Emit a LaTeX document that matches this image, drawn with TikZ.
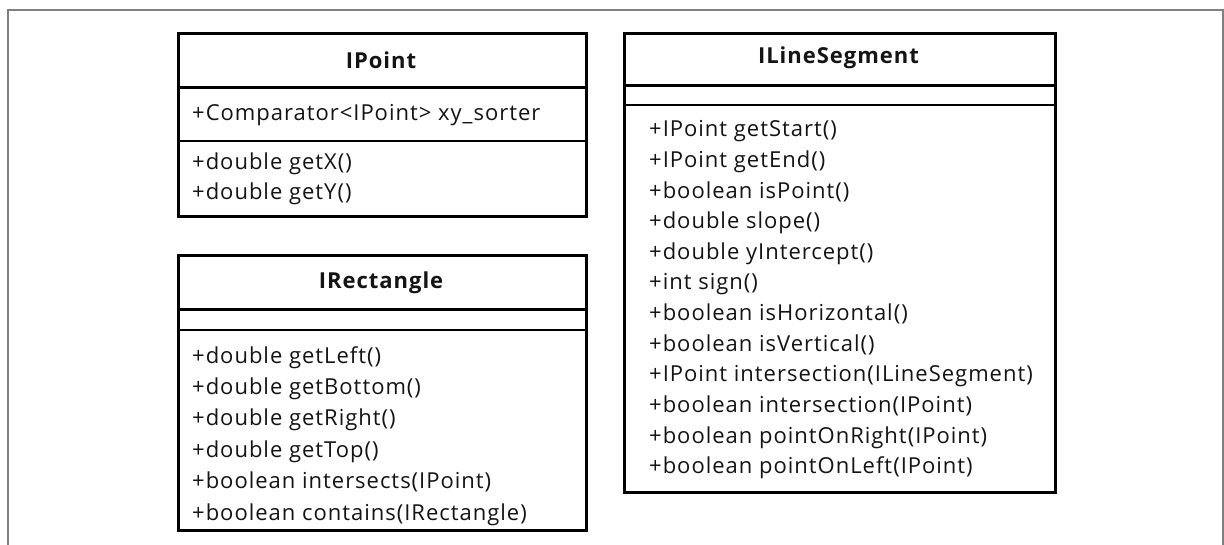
\documentclass[tikz,border=0pt]{standalone}
\usepackage{fontspec}
\setmainfont{Open Sans}[LetterSpace=4.5]
\begin{document}
\begin{tikzpicture}[x=1pt,y=-1pt,
  comp/.style={draw=black, line width=2.6pt, anchor=north west, inner sep=0pt, fill=white},
  thin/.style={draw=black, line width=2pt},
  title/.style={font=\fontsize{22}{26}\selectfont\bfseries, text=black!92, inner sep=0pt},
  member/.style={font=\fontsize{22}{26}\selectfont, text=black!92, inner sep=0pt, anchor=base west},
  frame/.style={draw=black!50, line width=1.5pt}
]
\useasboundingbox (0,0) rectangle (1224,545);
\fill[white] (0,0) rectangle (1224,545);
% outer frame
\draw[frame] (8,560) -- (8,10) -- (1223,10) -- (1223,560);

% ---------- IPoint ----------
\node[comp, minimum width=408pt, minimum height=183pt] (ptBox) at (177,32) {};
\node[comp, minimum width=408pt, minimum height=54pt] (ptHead) at (177,32) {};
\draw[thin] (ptBox.west |- 0,141) coordinate (ptSepL) -- (ptBox.east |- 0,141) coordinate (ptSepR);
\node[title] (ptTitle) at (381,60) {IPoint};
\node[member] (ptA1) at (192,121) {+Comparator<IPoint> xy\_sorter};
\node[member] (ptM1) at (192,170) {+double getX()};
\node[member] (ptM2) at (192,200) {+double getY()};

% ---------- IRectangle ----------
\node[comp, minimum width=408pt, minimum height=275pt] (rcBox) at (177,254) {};
\node[comp, minimum width=408pt, minimum height=54pt] (rcHead) at (177,254) {};
\draw[comp] (rcBox.west |- 0,330) coordinate (rcSepL) -- (rcBox.east |- 0,330) coordinate (rcSepR);
\node[title] (rcTitle) at (381,283) {IRectangle};
\foreach \t [count=\i from 0] in {+double getLeft(), +double getBottom(), +double getRight(), +double getTop(), +boolean intersects(IPoint), +boolean contains(IRectangle)}
  \node[member] (rcM\i) at (192,{363+31.4*\i}) {\t};

% ---------- ILineSegment ----------
\node[comp, minimum width=431pt, minimum height=459pt] (lsBox) at (623,32) {};
\node[comp, minimum width=431pt, minimum height=52pt] (lsHead) at (623,32) {};
\draw[comp] (lsBox.west |- 0,105) coordinate (lsSepL) -- (lsBox.east |- 0,105) coordinate (lsSepR);
\node[title] (lsTitle) at (838.5,58) {ILineSegment};
\foreach \t [count=\i from 0] in {+IPoint getStart(), +IPoint getEnd(), +boolean isPoint(), +double slope(), +double yIntercept(), +int sign(), +boolean isHorizontal(), +boolean isVertical(), +IPoint intersection(ILineSegment), +boolean intersection(IPoint), +boolean pointOnRight(IPoint), +boolean pointOnLeft(IPoint)}
  \node[member] (lsM\i) at (649,{137+30.6*\i}) {\t};
\end{tikzpicture}
\end{document}
